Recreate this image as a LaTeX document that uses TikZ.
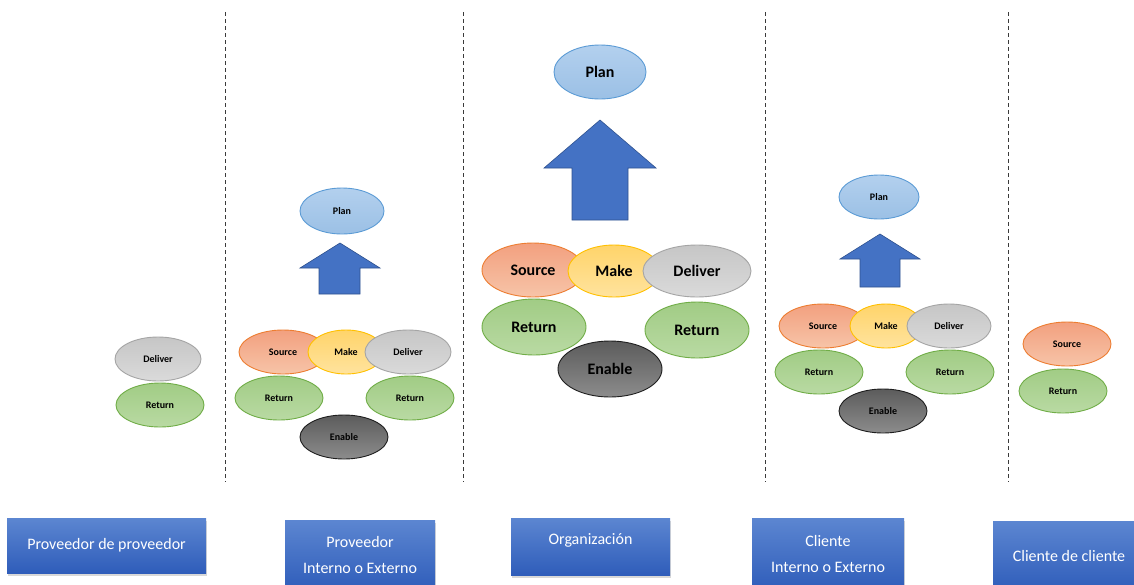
\documentclass[tikz,border=0pt]{standalone}
\usepackage{fontspec}
\setmainfont{Carlito}
\usetikzlibrary{shapes.geometric,shadows}
% lane title boxes and arrows
\definecolor{boxtop}{HTML}{5C86D1}
\definecolor{boxbot}{HTML}{2F5DBA}
\definecolor{arrowfill}{HTML}{4472C4}
\definecolor{arrowline}{HTML}{2F528F}
\definecolor{sepline}{HTML}{3A3A3A}
% process ovals
\definecolor{planline}{HTML}{5B9BD5}
\definecolor{plantop}{HTML}{B3D0EE}
\definecolor{planbot}{HTML}{9BC0E5}
\definecolor{srcline}{HTML}{ED7D31}
\definecolor{srctop}{HTML}{F2A07F}
\definecolor{srcbot}{HTML}{F7C4A8}
\definecolor{mkline}{HTML}{FFC000}
\definecolor{mktop}{HTML}{FFD46A}
\definecolor{mkbot}{HTML}{FFE39E}
\definecolor{dlvline}{HTML}{A5A5A5}
\definecolor{dlvtop}{HTML}{C6C6C6}
\definecolor{dlvbot}{HTML}{DADADA}
\definecolor{retline}{HTML}{70AD47}
\definecolor{rettop}{HTML}{A1CC85}
\definecolor{retbot}{HTML}{B9DAA3}
\definecolor{enbline}{HTML}{1E1E1E}
\definecolor{enbtop}{HTML}{5C5C5C}
\definecolor{enbbot}{HTML}{8C8C8C}
\tikzset{
  ov/.style={ellipse, draw, line width=0.9pt, inner sep=0pt, text=black},
  sm/.style={font=\fontsize{10}{12}\selectfont\bfseries},
  lg/.style={font=\fontsize{16}{19}\selectfont\bfseries},
  plan/.style={ov, draw=planline, top color=plantop, bottom color=planbot},
  src/.style={ov, draw=srcline, top color=srctop, bottom color=srcbot},
  mk/.style={ov, draw=mkline, top color=mktop, bottom color=mkbot},
  dlv/.style={ov, draw=dlvline, top color=dlvtop, bottom color=dlvbot},
  ret/.style={ov, draw=retline, top color=rettop, bottom color=retbot},
  enb/.style={ov, draw=enbline, top color=enbtop, bottom color=enbbot},
  upar/.style={fill=arrowfill, draw=arrowline, line width=0.6pt},
  sep/.style={draw=sepline, line width=0.9pt, dash pattern=on 4pt off 3pt},
  lane/.style={rectangle, draw=none, top color=boxtop, bottom color=boxbot,
    text=white, align=center, font=\fontsize{16}{26}\selectfont,
    drop shadow={shadow xshift=1pt, shadow yshift=-3pt, opacity=0.3}},
}
\begin{document}
\begin{tikzpicture}[x=1pt,y=-1pt]
\useasboundingbox[fill=white] (0,0) rectangle (1134,584);

% lane separators
\foreach \i/\x in {1/225,2/463,3/765,4/1008}{
  \coordinate (s\i t) at (\x,12);
  \coordinate (s\i b) at (\x,482);
  \draw[sep] (s\i t) -- (s\i b);
}

% --- Proveedor de proveedor
\node[dlv, sm, minimum width=86pt, minimum height=44pt] (a-dlv) at (158,359) {Deliver};
\node[ret, sm, minimum width=88pt, minimum height=44pt] (a-ret) at (160,405) {Return};

% --- Proveedor interno o externo
\node[plan, sm, minimum width=84pt, minimum height=46pt] (b-plan) at (342,211) {Plan};
\draw[upar] (340,243) -- (380,268) -- (360,268) -- (360,294) -- (319,294) -- (319,268) -- (300,268) -- cycle;
\node[src, sm, minimum width=88pt, minimum height=44pt] (b-src) at (283,352) {Source};
\node[mk, sm, minimum width=76pt, minimum height=44pt] (b-mk) at (346,352) {Make};
\node[dlv, sm, minimum width=86pt, minimum height=44pt] (b-dlv) at (408,352) {Deliver};
\node[ret, sm, minimum width=88pt, minimum height=44pt] (b-retl) at (279,398) {Return};
\node[ret, sm, minimum width=88pt, minimum height=44pt] (b-retr) at (410,398) {Return};
\node[enb, sm, minimum width=88pt, minimum height=44pt] (b-enb) at (344,437) {Enable};

% --- Organizacion
\node[plan, lg, minimum width=92pt, minimum height=54pt] (c-plan) at (600,72) {Plan};
\draw[upar] (600,120) -- (656,168) -- (628,168) -- (628,220) -- (572,220) -- (572,168) -- (544,168) -- cycle;
\node[src, lg, minimum width=102pt, minimum height=54pt] (c-src) at (533,270) {Source};
\node[mk, lg, minimum width=92pt, minimum height=52pt] (c-mk) at (614,271) {Make};
\node[dlv, lg, minimum width=108pt, minimum height=52pt] (c-dlv) at (697,271) {Deliver};
\node[ret, lg, minimum width=104pt, minimum height=56pt] (c-retl) at (534,327) {Return};
\node[ret, lg, minimum width=104pt, minimum height=56pt] (c-retr) at (697,330) {Return};
\node[enb, lg, minimum width=104pt, minimum height=56pt] (c-enb) at (610,369) {Enable};

% --- Cliente interno o externo
\node[plan, sm, minimum width=80pt, minimum height=44pt] (d-plan) at (879,197) {Plan};
\draw[upar] (880,234) -- (920,259) -- (900,259) -- (900,287) -- (860,287) -- (860,259) -- (840,259) -- cycle;
\node[src, sm, minimum width=88pt, minimum height=44pt] (d-src) at (823,326) {Source};
\node[mk, sm, minimum width=72pt, minimum height=44pt] (d-mk) at (886,326) {Make};
\node[dlv, sm, minimum width=84pt, minimum height=44pt] (d-dlv) at (949,326) {Deliver};
\node[ret, sm, minimum width=88pt, minimum height=44pt] (d-retl) at (819,372) {Return};
\node[ret, sm, minimum width=88pt, minimum height=44pt] (d-retr) at (950,372) {Return};
\node[enb, sm, minimum width=88pt, minimum height=44pt] (d-enb) at (883,411) {Enable};

% --- Cliente de cliente
\node[src, sm, minimum width=88pt, minimum height=44pt] (e-src) at (1067,344) {Source};
\node[ret, sm, minimum width=88pt, minimum height=44pt] (e-ret) at (1063,391) {Return};

% lane titles
\node[lane, minimum width=199pt, minimum height=55pt] (la) at (106.5,545.5) {Proveedor de proveedor};
\node[lane, minimum width=150pt, minimum height=70pt] (lb) at (360,555) {Proveedor\\Interno o Externo};
\node[lane, minimum width=159pt, minimum height=57pt, text depth=15pt] (lc) at (590.5,546.5) {Organización};
\node[lane, minimum width=152pt, minimum height=72pt] (ld) at (828,554) {Cliente\\Interno o Externo};
\node[lane, minimum width=152pt, minimum height=70pt] (le) at (1069,556) {Cliente de cliente};
\end{tikzpicture}
\end{document}
